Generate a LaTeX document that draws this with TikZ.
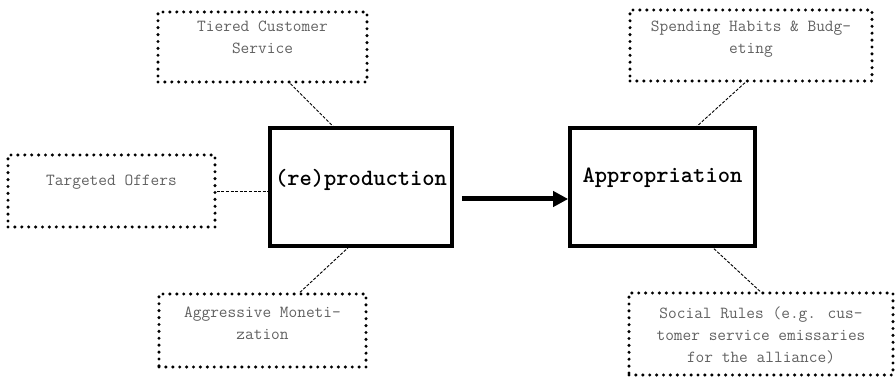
\documentclass[tikz,border=0pt]{standalone}
\usepackage{fontspec}
\usetikzlibrary{arrows.meta,calc}
\definecolor{notegray}{gray}{0.38}
\tikzset{
  dotbox/.style={draw, line width=3.4pt, line cap=round,
    dash pattern=on 0pt off 6.9pt, inner sep=0pt},
  mainbox/.style={draw, line width=3.6pt, inner sep=0pt},
  notetext/.style={font=\ttfamily\fontsize{16.9}{22}\selectfont, text=notegray,
    align=center, inner sep=0pt},
  maintext/.style={font=\ttfamily\bfseries\fontsize{23.4}{26}\selectfont,
    inner sep=0pt},
  link/.style={draw, line width=0.9pt, dash pattern=on 3pt off 1.6pt},
  flow/.style={draw, line width=5pt, -{Triangle[length=15pt,width=15pt]}}
}
\begin{document}
\begin{tikzpicture}[x=1pt,y=-1pt]
  \useasboundingbox (0,0) rectangle (895,379);

  % central process boxes
  \node[mainbox, minimum width=182, minimum height=118] (repro) at (361,187) {};
  \node[maintext] (reprotext) at (361,180) {(re)production};
  \node[mainbox, minimum width=185, minimum height=118] (approp) at (662.5,187) {};
  \node[maintext] (approptext) at (662.5,178) {Appropriation};

  % surrounding notes
  \node[dotbox, minimum width=209, minimum height=70] (tiered) at (262.5,47) {};
  \node[notetext] (tieredtext) at (262.5,37) {Tiered Customer\\Service};

  \node[dotbox, minimum width=207, minimum height=72] (targeted) at (111.5,191) {};
  \node[notetext] (targetedtext) at (111.5,182) {Targeted Offers};

  \node[dotbox, minimum width=207, minimum height=73] (aggr) at (262.5,330.5) {};
  \node[notetext] (aggrtext) at (262.5,323.5) {Aggressive Moneti-\\zation};

  \node[dotbox, minimum width=242, minimum height=71] (spend) at (751,45.5) {};
  \node[notetext] (spendtext) at (751,39) {Spending Habits \& Budg-\\eting};

  \node[dotbox, minimum width=264, minimum height=82] (social) at (761,334) {};
  \node[notetext] (socialtext) at (761,335.5)
    {Social Rules (e.g. cus-\\tomer service emissaries\\for the alliance)};

  % connectors
  \draw[link] ([xshift=28pt]tiered.south) -- ([xshift=-28pt]repro.north);
  \draw[link] (targeted.east) -- (targeted.east -| repro.west);
  \draw[link] ([xshift=37.5pt]aggr.north) -- ([xshift=-13pt]repro.south);
  \draw[link] ([xshift=-6pt]spend.south) -- ([xshift=34.5pt]approp.north);
  \draw[link] ([xshift=-1pt]social.north) -- ([xshift=50.5pt]approp.south);

  \draw[flow] ([xshift=8pt,yshift=-12pt]repro.east) -- ([yshift=-12pt]approp.west);
\end{tikzpicture}
\end{document}
